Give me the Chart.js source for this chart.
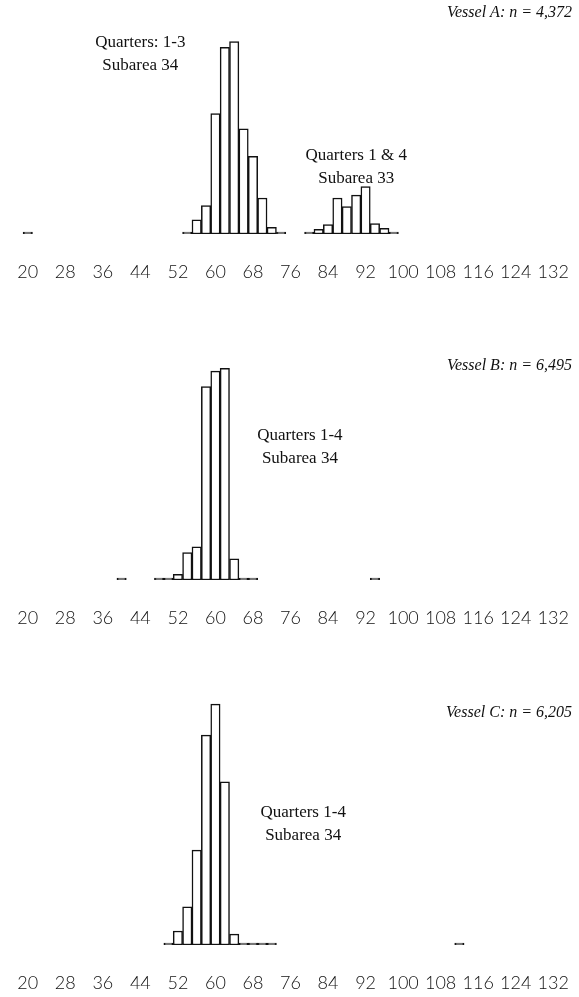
<!DOCTYPE html>
<html>
<head>
<meta charset="utf-8">
<script src="https://cdn.jsdelivr.net/npm/chart.js@4.4.1/dist/chart.umd.min.js"></script>
<style>
  body { margin: 0; background: #fff; overflow: hidden; }
  .panel { position: absolute; left: 0; width: 579px; }
</style>
</head>
<body>
<div class="panel" style="top:0;height:310px"><canvas id="vesselA"></canvas></div>
<div class="panel" style="top:300px;height:356px"><canvas id="vesselB"></canvas></div>
<div class="panel" style="top:640px;height:381px"><canvas id="vesselC"></canvas></div>
<script>
/* length axis tick labels */
const tickValues = [20, 28, 36, 44, 52, 60, 68, 76, 84, 92, 100, 108, 116, 124, 132];

/* vessel A - bin centres and % frequency */
const binsA = [20, 54, 56, 58, 60, 62, 64, 66, 68, 70, 72, 74, 80, 82, 84, 86, 88, 90, 92, 94, 96, 98];
const freqA = [0.1, 0.1, 1.5, 3.0, 12.7, 19.7, 20.3, 11.1, 8.2, 3.8, 0.7, 0.1, 0.1, 0.5, 1.0, 3.8, 2.9, 4.1, 5.0, 1.1, 0.6, 0.1];

/* vessel B */
const binsB = [40, 48, 50, 52, 54, 56, 58, 60, 62, 64, 66, 68, 94];
const freqB = [0.15, 0.1, 0.15, 0.8, 3.9, 4.7, 27.5, 29.7, 30.1, 3.0, 0.1, 0.1, 0.15];

/* vessel C */
const binsC = [50, 52, 54, 56, 58, 60, 62, 64, 66, 68, 70, 72, 112];
const freqC = [0.1, 1.8, 4.9, 12.2, 27.0, 31.0, 21.0, 1.4, 0.2, 0.1, 0.1, 0.1, 0.15];

/* text on the panels */
const notes = {
  vesselA: { vessel: 'Vessel A: n = 4,372', vesselY: 23.4,
    notes: [{ x: 44, y: 20.2, lines: ['Quarters: 1-3', 'Subarea 34'] },
            { x: 90, y: 8.3, lines: ['Quarters 1 & 4', 'Subarea 33'] }] },
  vesselB: { vessel: 'Vessel B: n = 6,495', vesselY: 30.5,
    notes: [{ x: 78, y: 20.5, lines: ['Quarters 1-4', 'Subarea 34'] }] },
  vesselC: { vessel: 'Vessel C: n = 6,205', vesselY: 29.9,
    notes: [{ x: 78.7, y: 17.0, lines: ['Quarters 1-4', 'Subarea 34'] }] }
};

const notesPlugin = {
  id: 'notes',
  afterDraw(chart) {
    const n = notes[chart.canvas.id];
    const ctx = chart.ctx, xs = chart.scales.x, ys = chart.scales.y;
    ctx.save();
    ctx.fillStyle = '#111';
    ctx.textBaseline = 'middle';
    ctx.textAlign = 'center';
    ctx.font = '17px "Liberation Serif"';
    n.notes.forEach(function (note) {
      note.lines.forEach(function (t, i) {
        ctx.fillText(t, xs.getPixelForValue(note.x), ys.getPixelForValue(note.y) + i * 23);
      });
    });
    ctx.font = 'italic 16px "Liberation Serif"';
    ctx.textAlign = 'right';
    ctx.fillText(n.vessel, chart.chartArea.right, ys.getPixelForValue(n.vesselY));
    ctx.restore();
  }
};

function drawPanel(id, bins, freq, yMax) {
  new Chart(document.getElementById(id), {
    type: 'bar',
    data: {
      datasets: [{
        data: bins.map(function (b, i) { return { x: b, y: freq[i] }; }),
        backgroundColor: '#fff',
        borderColor: '#111',
        borderWidth: 1.5,
        borderSkipped: false,
        minBarLength: 2,
        barPercentage: 1,
        categoryPercentage: 1
      }]
    },
    options: {
      responsive: true,
      maintainAspectRatio: false,
      animation: false,
      layout: { padding: { left: 9, right: 7, top: 0, bottom: 0 } },
      plugins: { legend: { display: false }, tooltip: { enabled: false } },
      scales: {
        x: {
          type: 'linear', min: 16, max: 136, offset: false,
          grid: { display: false, drawTicks: false },
          border: { display: false },
          afterBuildTicks: function (axis) { axis.ticks = tickValues.map(function (v) { return { value: v }; }); },
          ticks: { color: '#111', padding: 0, maxRotation: 0, autoSkip: false,
                   font: { family: 'Lato', size: 18, weight: 300, lineHeight: '76px' } }
        },
        y: { display: false, min: 0, max: yMax }
      }
    },
    plugins: [notesPlugin]
  });
}

drawPanel('vesselA', binsA, freqA, 24.7);
drawPanel('vesselB', binsB, freqB, 39.8);
drawPanel('vesselC', binsC, freqC, 39.25);
</script>
</body>
</html>
